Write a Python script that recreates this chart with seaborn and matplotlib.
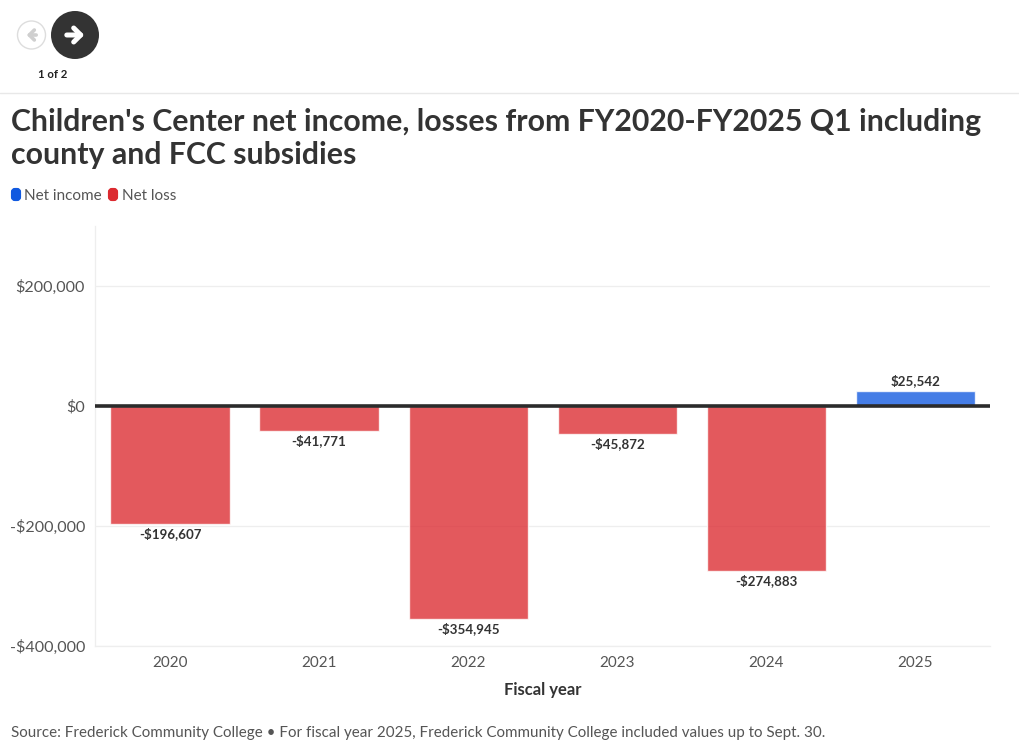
import matplotlib
matplotlib.use("Agg")
import matplotlib.pyplot as plt
import pandas as pd
import seaborn as sns
from matplotlib.patches import Circle, FancyBboxPatch
from matplotlib.lines import Line2D

years = ["2020", "2021", "2022", "2023", "2024", "2025"]
net_values = [-196607, -41771, -354945, -45872, -274883, 25542]
bar_labels = ["-$196,607", "-$41,771", "-$354,945", "-$45,872", "-$274,883", "$25,542"]
status = ["Net loss", "Net loss", "Net loss", "Net loss", "Net loss", "Net income"]
y_ticks = [-400000, -200000, 0, 200000]
y_tick_labels = ["-$400,000", "-$200,000", "$0", "$200,000"]
title_lines = ["Children's Center net income, losses from FY2020-FY2025 Q1 including",
               "county and FCC subsidies"]
source_text = "Source: Frederick Community College \u2022 For fiscal year 2025, Frederick Community College included values up to Sept. 30."

BLUE = "#1059e0"
RED = "#dc2a30"
INK = "#333333"
W, H = 1020, 752

sns.set_theme(style="white")
plt.rcParams["font.family"] = ["Lato", "DejaVu Sans"]

fig = plt.figure(figsize=(W / 100, H / 100), dpi=100, facecolor="white")
ax = fig.add_axes([95.5 / W, 1 - 646 / H, (990 - 95.5) / W, (646 - 226) / H])

df = pd.DataFrame({"year": years, "value": net_values, "status": status})
sns.barplot(data=df, x="year", y="value", hue="status",
            palette={"Net loss": RED, "Net income": BLUE},
            dodge=False, width=0.8, alpha=0.78, saturation=1, legend=False, ax=ax, zorder=2)

ax.set_xlim(-0.5, 5.5)
ax.set_ylim(-400000, 300000)
ax.set_yticks(y_ticks, y_tick_labels)
ax.tick_params(axis="y", length=0, pad=7.5, labelsize=11.6, labelcolor="#555555")
ax.tick_params(axis="x", length=5, width=0.8, color="#eeeeee", pad=2, labelsize=11, labelcolor="#555555")
ax.grid(axis="y", color="#eeeeee", lw=0.9, zorder=0)
ax.set_axisbelow(True)
for s in ["top", "right"]:
    ax.spines[s].set_visible(False)
for s in ["left", "bottom"]:
    ax.spines[s].set_color("#eeeeee")
    ax.spines[s].set_linewidth(0.9)
ax.axhline(0, color="#2b2b2b", lw=2.6, zorder=4)
ax.set_ylabel("")
ax.set_xlabel("Fiscal year", fontsize=12, fontweight="bold", color=INK, labelpad=8.5)

for i, (v, lab) in enumerate(zip(net_values, bar_labels)):
    ax.annotate(lab, (i, v), xytext=(0, 10 if v > 0 else -10), textcoords="offset pixels",
                ha="center", va="center",
                fontsize=9.6, fontweight="bold", color=INK, zorder=5)

# Pixel-space overlay for the page furniture
ov = fig.add_axes([0, 0, 1, 1], facecolor="none")
ov.set_xlim(0, W)
ov.set_ylim(H, 0)
ov.axis("off")

ov.add_patch(Circle((31.5, 35), 14, fc="white", ec="#dddddd", lw=1))
ov.annotate("", (24, 35), (39, 35), arrowprops=dict(arrowstyle="->,head_length=0.3,head_width=0.3", color="#cfcfcf", lw=2.6))
ov.add_patch(Circle((75, 35), 24, fc="#333333", ec="none"))
ov.annotate("", (87, 35), (64, 35), arrowprops=dict(arrowstyle="->,head_length=0.42,head_width=0.42", color="white", lw=3.6))
ov.text(53, 74, "1 of 2", ha="center", va="center", fontsize=8.2, fontweight="bold", color="#222222")
ov.add_line(Line2D([0, W], [92.5, 92.5], color="#e8e8e8", lw=1))

ov.text(11, 131, title_lines[0], ha="left", va="baseline", fontsize=21.75, fontweight="bold", color=INK)
ov.text(11, 164, title_lines[1], ha="left", va="baseline", fontsize=21.75, fontweight="bold", color=INK)

for x0, c, lab, tx in [(11, BLUE, "Net income", 24), (108, RED, "Net loss", 122)]:
    ov.add_patch(FancyBboxPatch((x0 + 2, 190), 6, 9, boxstyle="round,pad=0,rounding_size=2", fc=c, ec=c, lw=3))
    ov.text(tx, 195.5, lab, ha="left", va="center", fontsize=11, color="#555555")

ov.text(11, 733.5, source_text, ha="left", va="center", fontsize=10.9, color="#555555")

fig.savefig("out.png", dpi=100)
